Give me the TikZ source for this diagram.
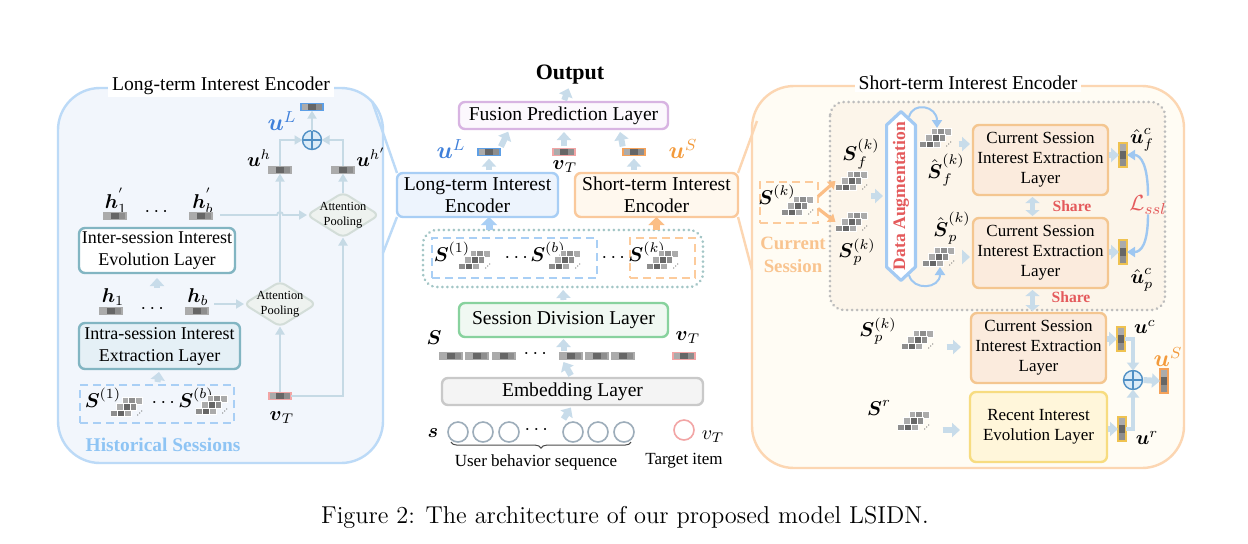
\documentclass[tikz,border=0pt]{standalone}
\usepackage{amsmath,amssymb}
\usepackage{fontspec}
\newfontfamily\tnr{Liberation Serif}
\usetikzlibrary{arrows.meta,positioning,decorations.pathreplacing}

\definecolor{lpanel}{HTML}{BCDAF7}
\definecolor{lpanelf}{HTML}{F2F6FC}
\definecolor{rpanel}{HTML}{FCD6B2}
\definecolor{rpanelf}{HTML}{FFFCF4}
\definecolor{rinner}{HTML}{FCF5EA}
\definecolor{arw}{HTML}{C8DCEA}
\definecolor{lnc}{HTML}{C6DAE5}
\definecolor{tealb}{HTML}{82B5C2}
\definecolor{intraf}{HTML}{E5F0F6}
\definecolor{dmdl}{HTML}{D3DDD8}
\definecolor{dmdf}{HTML}{EEF2EF}
\definecolor{fusb}{HTML}{D8B4E2}
\definecolor{fusf}{HTML}{FCF8FD}
\definecolor{lencb}{HTML}{A8CEF5}
\definecolor{lencf}{HTML}{EDF4FD}
\definecolor{sencb}{HTML}{FAC99C}
\definecolor{sencf}{HTML}{FFF8EE}
\definecolor{sdivb}{HTML}{88D29E}
\definecolor{sdivf}{HTML}{F0F8F2}
\definecolor{embb}{HTML}{C9C9C9}
\definecolor{embf}{HTML}{F4F4F4}
\definecolor{csb}{HTML}{F4C690}
\definecolor{csf}{HTML}{FBEBDD}
\definecolor{recb}{HTML}{F7DC80}
\definecolor{recf}{HTML}{FFF6DA}
\definecolor{blab}{HTML}{3F80DA}
\definecolor{olab}{HTML}{F39A3B}
\definecolor{rlab}{HTML}{E45A5C}
\definecolor{histc}{HTML}{8EC4F4}
\definecolor{curc}{HTML}{F9C48F}
\definecolor{dashb}{HTML}{A9CFF5}
\definecolor{dasho}{HTML}{FCCB9C}
\definecolor{dotc}{HTML}{A3C6C6}
\definecolor{dotg}{HTML}{BDBDBD}
\definecolor{cL}{HTML}{ABABAB}
\definecolor{cM}{HTML}{8E8E8E}
\definecolor{cD}{HTML}{666666}
\definecolor{vblue}{HTML}{5D9FE6}
\definecolor{vpink}{HTML}{F2A5A5}
\definecolor{vorng}{HTML}{F5A25A}
\definecolor{vyel}{HTML}{EFC250}
\definecolor{circ}{HTML}{9DADBA}
\definecolor{oplc}{HTML}{4F8FC4}
\definecolor{oplf}{HTML}{DCECF8}
\definecolor{dab}{HTML}{A3CAF3}
\definecolor{sslc}{HTML}{9EC7F1}
\definecolor{orarw}{HTML}{FBBE86}

\newcommand\ftbox{\tnr\fontsize{9.8}{11}\selectfont}
\newcommand\ftleft{\tnr\fontsize{9}{11}\selectfont}
\newcommand\ftright{\tnr\fontsize{8.5}{10}\selectfont}
\newcommand\ftap{\tnr\fontsize{6.2}{7.6}\selectfont}
\newcommand\ftnote{\tnr\fontsize{8.5}{10}\selectfont}
\newcommand\ftmath{\fontsize{10}{12}\selectfont}
\newcommand\ftbig{\fontsize{12}{14}\selectfont}

% one bar of three cells inside a session icon
\newcommand\stkbar[5]{%
  \filldraw[fill=#3, draw=white, line width=0.2pt] ([shift={(#1pt,#2pt)}]path picture bounding box.south west) rectangle ++(3.4pt,3.2pt);
  \filldraw[fill=#4, draw=white, line width=0.2pt] ([shift={(#1pt+3.4pt,#2pt)}]path picture bounding box.south west) rectangle ++(3.4pt,3.2pt);
  \filldraw[fill=#5, draw=white, line width=0.2pt] ([shift={(#1pt+6.8pt,#2pt)}]path picture bounding box.south west) rectangle ++(3.4pt,3.2pt);}
\newcommand\stkbars{%
  \stkbar{5.6}{6.5}{cL}{cM}{cL}%
  \stkbar{2.8}{3.5}{cL}{cD}{cM}%
  \stkbar{0}{0.4}{cM}{cD}{cL}%
  \fill[cD] ([shift={(13.6pt,1pt)}]path picture bounding box.south west) circle (0.3pt)
            ([shift={(14.6pt,2pt)}]path picture bounding box.south west) circle (0.3pt)
            ([shift={(15.6pt,3pt)}]path picture bounding box.south west) circle (0.3pt);}

\begin{document}
\begin{tikzpicture}[x=0.5pt, y=-0.5pt,
  every node/.style={inner sep=0pt, outer sep=0pt, font=\ftmath},
  lay/.style 2 args={draw=#1, fill=#2, rounded corners=3pt, line width=1.2pt, align=center},
  pnl/.style 2 args={draw=#1, fill=#2, line width=1.2pt, rounded corners=21pt},
  dashbox/.style={draw=#1, line width=1.3pt, dash pattern=on 4pt off 2.5pt},
  dotbox/.style={draw=#1, line width=1.4pt, dash pattern=on 0.1pt off 2.4pt, line cap=round, rounded corners=7pt},
  conn/.style={draw=lnc, line width=0.9pt, -{Triangle[width=4.5pt,length=4pt]}},
  barrow/.style={draw=arw, line width=3pt, -{Triangle[width=7pt,length=4pt]}},
  fatconn/.style={draw=arw, line width=1.6pt, -{Triangle[width=6pt,length=4pt]}},
  sharearr/.style={draw=arw, line width=2.5pt, {Triangle[width=7pt,length=3pt]}-{Triangle[width=7pt,length=3pt]}},
  thkarr/.style={draw=#1, line width=3.5pt, -{Triangle[width=8pt,length=4pt]}},
  oarrow/.style={draw=orarw, line width=1.6pt, -{Triangle[width=5pt,length=3.5pt]}},
  curvarr/.style={draw=sslc, line width=1pt, -{Triangle[width=5pt,length=4pt]}},
  fun/.style={draw=#1, line width=1.2pt},
  hvec/.style={draw=#1, line width=0.6pt, minimum width=11pt, minimum height=3.6pt,
    path picture={
      \fill[cL] (path picture bounding box.south west) rectangle ([xshift=3.67pt]path picture bounding box.north west);
      \fill[cD] ([xshift=3.67pt]path picture bounding box.south west) rectangle ([xshift=7.33pt]path picture bounding box.north west);
      \fill[cM] ([xshift=7.33pt]path picture bounding box.south west) rectangle (path picture bounding box.north east);}},
  hvec/.default=cL,
  vvec/.style={draw=#1, line width=0.6pt, minimum width=4pt, minimum height=12pt,
    path picture={
      \fill[cM] (path picture bounding box.south west) rectangle ([yshift=4pt]path picture bounding box.south east);
      \fill[cD] ([yshift=4pt]path picture bounding box.south west) rectangle ([yshift=8pt]path picture bounding box.south east);
      \fill[cL] ([yshift=8pt]path picture bounding box.south west) rectangle (path picture bounding box.north east);}},
  stk/.style={minimum width=17.5pt, minimum height=10pt, path picture={\stkbars}},
  apool/.style={minimum width=36pt, minimum height=22.5pt, align=center, font=\ftap,
    path picture={\draw[draw=dmdl, fill=dmdf, line width=1pt, rounded corners=3pt]
      (path picture bounding box.west) -- (path picture bounding box.north) -- (path picture bounding box.east) -- (path picture bounding box.south) -- cycle;}},
  oplus/.style={circle, draw=oplc, fill=oplf, line width=0.7pt, minimum size=9.5pt,
    path picture={\draw[oplc, line width=0.6pt] (path picture bounding box.north) -- (path picture bounding box.south) (path picture bounding box.west) -- (path picture bounding box.east);}},
  dabox/.style={minimum width=16pt, minimum height=86pt, text=rlab, font=\tnr\bfseries\fontsize{8.8}{10}\selectfont,
    path picture={\draw[draw=dab, fill=white, line width=1.6pt, line join=round]
      ([shift={(0.8pt,-7.5pt)}]path picture bounding box.north west) -- ([yshift=-0.8pt]path picture bounding box.north)
      -- ([shift={(-0.8pt,-7.5pt)}]path picture bounding box.north east) -- ([shift={(-0.8pt,7.5pt)}]path picture bounding box.south east)
      -- ([yshift=0.8pt]path picture bounding box.south) -- ([shift={(0.8pt,7.5pt)}]path picture bounding box.south west) -- cycle;}},
  item/.style={circle, draw=circ, line width=0.8pt, minimum size=10pt},
  share/.style={text=rlab, font=\tnr\bfseries\fontsize{7.8}{9}\selectfont},
  csbox/.style={lay={csb}{csf}, font=\ftright, minimum width=67.5pt, minimum height=35pt}
]
\useasboundingbox[fill=white] (0,0) rectangle (1248,543);

% panels
\draw[pnl={lpanel}{lpanelf}] (58,88) rectangle (383,463);
\node[font=\ftbox, fill=white, inner xsep=2pt, inner ysep=1pt] (ltitle) at (221,86) {Long-term Interest Encoder};
\draw[pnl={rpanel}{rpanelf}] (752,86) rectangle (1184,468);
\node[font=\ftbox, fill=white, inner xsep=2pt, inner ysep=1pt] (rtitle) at (968,83) {Short-term Interest Encoder};
\draw[dotbox=dotg, fill=rinner] (830,102) rectangle (1165,310);
\coordinate (lft) at (372,101);
\coordinate (lfb) at (383,253);
\coordinate (rft) at (757,121);
\coordinate (rfb) at (752,270);

% long-term encoder
\node[hvec=vblue] (uLv) at (312,107) {};
\node[font=\ftbig, text=blab] (uLlab) at (282,121) {$\boldsymbol{u}^{L}$};
\node[oplus] (opl) at (312,140) {};
\node (uhlab) at (259,158) {$\boldsymbol{u}^{h}$};
\node[hvec] (uhv) at (280,170) {};
\node (uhplab) at (371,157) {$\boldsymbol{u}^{h'}$};
\node[hvec] (uhpv) at (343,170) {};
\node[apool] (ap1) at (343,215) {Attention\\Pooling};
\node (hp1lab) at (116,201) {$\boldsymbol{h}_1^{'}$};
\node[hvec] (hp1v) at (115,216) {};
\node (dots1) at (158,212) {$\cdots$};
\node (hpblab) at (203,201) {$\boldsymbol{h}_b^{'}$};
\node[hvec] (hpbv) at (201,216) {};
\node[lay={tealb}{white}, font=\ftleft, minimum width=78pt, minimum height=22.5pt] (inter) at (157,250.5) {Inter-session Interest\\Evolution Layer};
\node (h1lab) at (113,297) {$\boldsymbol{h}_1$};
\node[hvec] (h1v) at (111,311) {};
\node (dots2) at (154,309) {$\cdots$};
\node (hblab) at (198,297) {$\boldsymbol{h}_b$};
\node[hvec] (hbv) at (197,311) {};
\node[apool] (ap2) at (280,304) {Attention\\Pooling};
\node[lay={tealb}{intraf}, font=\ftleft, minimum width=80.5pt, minimum height=23pt] (intra) at (159.5,346) {Intra-session Interest\\Extraction Layer};
\node[dashbox=dashb, minimum width=77pt, minimum height=19pt] (hist) at (157,404) {};
\node (s1lab) at (103,398) {$\boldsymbol{S}^{(1)}$};
\node[stk] (s1stk) at (128,407) {};
\node (dots3) at (165,403) {$\cdots$};
\node (sblab) at (196,398) {$\boldsymbol{S}^{(b)}$};
\node[stk] (sbstk) at (213,405) {};
\node[hvec=vpink] (vTl) at (280,396) {};
\node (vTllab) at (282,418) {$\boldsymbol{v}_T$};
\node[font=\tnr\bfseries\fontsize{9.7}{11}\selectfont, text=histc] (histlab) at (163,445) {Historical Sessions};

\draw[conn] (uhv.north) |- (opl.west);
\draw[conn] (uhpv.north) |- (opl.east);
\draw[conn] (opl.north) -- (uLv.south);
\draw[conn] (ap1.north) -- (uhpv.south);
\draw[conn] (ap2.north) -- (uhv.south);
\draw[conn] ([xshift=4pt]hpbv.east |- ap1.west) -- ([xshift=-1.5pt]uhv.south |- ap1.west)
  arc[start angle=180, end angle=0, radius=1.5pt] -- (ap1.west);
\draw[conn] ([xshift=3pt]hbv.east |- ap2.west) -- (ap2.west);
\draw[conn] (vTl.north) -- (ap2.south);
\draw[conn] (vTl.east) -| (ap1.south);
\draw[barrow] ([yshift=-7.5pt]inter.south) -- ([yshift=-2.5pt]inter.south);
\draw[barrow, shorten <=1.5pt, shorten >=1.5pt] (hist.north) -- (intra.south);

% main pipeline
\node[font=\tnr\bfseries\fontsize{11}{13}\selectfont] (out) at (570,75) {Output};
\node[lay={fusb}{fusf}, font=\ftbox, minimum width=104.5pt, minimum height=13.5pt] (fus) at (563.5,115.5) {Fusion Prediction Layer};
\node[font=\ftbig, text=blab] (uLclab) at (451,149) {$\boldsymbol{u}^{L}$};
\node[hvec=vblue] (uLc) at (489,152) {};
\node[hvec=vpink] (vTc) at (564,152) {};
\node (vTclab) at (565,167) {$\boldsymbol{v}_T$};
\node[hvec=vorng] (uSc) at (634,152) {};
\node[font=\ftbig, text=olab] (uSclab) at (683,149) {$\boldsymbol{u}^{S}$};
\node[lay={lencb}{lencf}, font=\ftbox, minimum width=80.5pt, minimum height=22pt] (lenc) at (477.5,195) {Long-term Interest\\Encoder};
\node[lay={sencb}{sencf}, font=\ftbox, minimum width=81.5pt, minimum height=22pt] (senc) at (656.5,195) {Short-term Interest\\Encoder};
\node[dotbox=dotc, minimum width=140pt, minimum height=28.5pt] (sess) at (563,258.5) {};
\node[dashbox=dashb, minimum width=82.5pt, minimum height=20pt] (lsess) at (514.5,258) {};
\node[dashbox=dasho, minimum width=32.5pt, minimum height=20pt] (ksess) at (662.5,258) {};
\node (c1lab) at (452,252) {$\boldsymbol{S}^{(1)}$};
\node[stk] (c1stk) at (476,260) {};
\node (dots4) at (518,258) {$\cdots$};
\node (cblab) at (548,252) {$\boldsymbol{S}^{(b)}$};
\node[stk] (cbstk) at (566,260) {};
\node (dots5) at (615,258) {$\cdots$};
\node (cklab) at (647,252) {$\boldsymbol{S}^{(k)}$};
\node[stk] (ckstk) at (664,260) {};
\node[lay={sdivb}{sdivf}, font=\ftbox, minimum width=104.5pt, minimum height=17pt] (sdiv) at (563.5,320) {Session Division Layer};
\node (Slab) at (434,338) {$\boldsymbol{S}$};
\node (vTelab) at (688,338) {$\boldsymbol{v}_T$};
\foreach \x [count=\i] in {451,477,504,571,597,623}
  \node[hvec] (e\i) at (\x,356) {};
\node (dots6) at (537,354) {$\cdots$};
\node[hvec=vpink] (vTe) at (684,356) {};
\node[lay={embb}{embf}, font=\ftbox, minimum width=130.5pt, minimum height=13.5pt] (emb) at (572.5,391.5) {Embedding Layer};
\node (slab) at (433,433) {$\boldsymbol{s}$};
\foreach \x [count=\i] in {458,483,509,573,598,624}
  \node[item] (it\i) at (\x,432) {};
\node (dots7) at (538,430) {$\cdots$};
\node[item, draw=vpink] (tgt) at (684,430) {};
\node (vTilab) at (713,437) {$v_T$};
\draw[decorate, decoration={brace, mirror, amplitude=3pt}, draw=black!70, line width=0.5pt]
  ([yshift=-1.5pt]it1.south west) -- ([yshift=-1.5pt]it6.south east);
\node[font=\ftnote] (ubs) at (536,462) {User behavior sequence};
\node[font=\ftnote] (tgtlab) at (684,461) {Target item};
\coordinate (rowt) at (563.5,351);
\coordinate (rowb) at (563.5,362);
\coordinate (itemt) at (563.5,419);

\draw[barrow, shorten <=1pt, shorten >=2pt] (fus.north) -- (out.south);
\draw[barrow, shorten <=1pt, shorten >=1.5pt] (uLc.north east) -- ([xshift=-27pt]fus.south);
\draw[barrow, shorten <=1pt, shorten >=1.5pt] (vTc.north) -- (vTc.north |- fus.south);
\draw[barrow, shorten <=1pt, shorten >=1.5pt] (uSc.north west) -- ([xshift=28pt]fus.south);
\draw[barrow, shorten <=1.5pt, shorten >=1.5pt] (lenc.north -| uLc) -- (uLc.south);
\draw[barrow, shorten <=1.5pt, shorten >=1.5pt] (senc.north -| uSc) -- (uSc.south);
\draw[thkarr=dashb] (sess.north -| uLc) -- (lenc.south -| uLc);
\draw[thkarr=orarw] (sess.north -| senc) -- (senc.south);
\draw[barrow, shorten <=1.5pt, shorten >=1.5pt] (sdiv.north) -- (sess.south);
\draw[barrow, shorten >=1pt] (rowt) -- (sdiv.south);
\draw[barrow, shorten <=1.5pt] (emb.north) -- (rowb);
\draw[barrow, shorten >=1.5pt] (itemt) -- (emb.south);

\draw[fun=lpanel] (lft) -- (lenc.north west);
\draw[fun=lpanel] (lfb) -- (lenc.south west);
\draw[fun=rpanel] (senc.north east) -- (rft);
\draw[fun=rpanel] (senc.south east) -- (rfb);

% short-term encoder
\node[dashbox=dasho, minimum width=29pt, minimum height=20.5pt] (cur) at (789,202.5) {};
\node (sklab) at (777,195) {$\boldsymbol{S}^{(k)}$};
\node[stk] (skstk) at (799,206) {};
\node[font=\tnr\bfseries\fontsize{9.4}{11.5}\selectfont, text=curc, align=center] (curlab) at (793,255) {Current\\Session};
\node (sflab) at (861,154) {$\boldsymbol{S}_f^{(k)}$};
\node[stk] (sfstk) at (853,181) {};
\node[stk] (spstk) at (853,222) {};
\node (splab) at (857,252) {$\boldsymbol{S}_p^{(k)}$};
\node[dabox] (da) at (901,196) {\rotatebox{90}{Data Augmentation}};
\node[stk] (sfh) at (937,138) {};
\node (sfhlab) at (946,170) {$\hat{\boldsymbol{S}}_f^{(k)}$};
\node (sphlab) at (952,228) {$\hat{\boldsymbol{S}}_p^{(k)}$};
\node[stk] (sph) at (940,257) {};
\node[csbox] (cs1) at (1040.5,160) {Current Session\\Interest Extraction\\Layer};
\node[csbox] (cs2) at (1040.5,253) {Current Session\\Interest Extraction\\Layer};
\node[vvec=vyel] (ufv) at (1123,155) {};
\node (uflab) at (1142,140) {$\hat{\boldsymbol{u}}_f^{c}$};
\node[vvec=vyel] (upv) at (1123,252) {};
\node (uplab) at (1142,280) {$\hat{\boldsymbol{u}}_p^{c}$};
\node[text=rlab, font=\fontsize{11}{13}\selectfont] (lssl) at (1148,205) {$\mathcal{L}_{ssl}$};
\node[share] (sh1) at (1072,206) {Share};
\node[share] (sh2) at (1071,297) {Share};
\node (sp2lab) at (878,331) {$\boldsymbol{S}_p^{(k)}$};
\node[stk] (sp2stk) at (919,340) {};
\node[csbox] (cs3) at (1038.5,348) {Current Session\\Interest Extraction\\Layer};
\node (srlab) at (879,408) {$\boldsymbol{S}^{r}$};
\node[stk] (srstk) at (915,421) {};
\node[lay={recb}{recf}, font=\ftright, minimum width=68.5pt, minimum height=35pt] (rec) at (1038.5,427) {Recent Interest\\Evolution Layer};
\node[vvec=vyel] (ucv) at (1121,339) {};
\node (uclab) at (1145,327) {$\boldsymbol{u}^{c}$};
\node[vvec=vyel] (urv) at (1122,429) {};
\node (urlab) at (1147,438) {$\boldsymbol{u}^{r}$};
\node[oplus] (opr) at (1133,380) {};
\node[vvec=vorng] (uSv) at (1164,381) {};
\node[font=\ftbig, text=olab] (uSlab) at (1168,357) {$\boldsymbol{u}^{S}$};

\draw[oarrow] ([yshift=3pt]cur.east) -- (sfstk.west);
\draw[oarrow] ([yshift=-3pt]cur.east) -- (spstk.west);
\draw[barrow, shorten >=1pt] ([xshift=-7pt]da.west) -- (da.west);
\draw[curvarr] ([xshift=4pt,yshift=-3.5pt]da.north) .. controls +(4,-16) and +(0,-22) .. (sfh.north);
\draw[curvarr] ([xshift=4pt,yshift=3.5pt]da.south) .. controls +(4,16) and +(0,22) .. (sph.south);
\draw[barrow, shorten <=2pt, shorten >=1.5pt] ([yshift=-3pt]sfh.east) -- ([yshift=-3pt]sfh.east -| cs1.west);
\draw[barrow, shorten <=2pt, shorten >=1.5pt] (sph.east) -- (sph.east -| cs2.west);
\draw[barrow, shorten <=5pt, shorten >=5pt] ([yshift=-3.5pt]sp2stk.east) -- ([yshift=-3.5pt]sp2stk.east -| cs3.west);
\draw[barrow, shorten <=5pt, shorten >=5pt] ([yshift=-4.5pt]srstk.east) -- ([yshift=-4.5pt]srstk.east -| rec.west);
\draw[barrow, shorten <=0.5pt] (cs1.east |- ufv.west) -- (ufv.west);
\draw[barrow, shorten <=0.5pt] (cs2.east |- upv.west) -- (upv.west);
\draw[barrow, shorten <=0.5pt] (cs3.east |- ucv.west) -- (ucv.west);
\draw[barrow, shorten <=0.5pt] (rec.east |- urv.west) -- (urv.west);
\draw[sharearr, shorten <=1pt, shorten >=1pt] ([xshift=-4pt]cs1.south) -- ([xshift=-4pt]cs2.north);
\draw[sharearr, shorten <=1pt, shorten >=1pt] ([xshift=-4pt]cs2.south) -- ([xshift=-3pt]cs3.north);
\draw[curvarr, draw=sslc, line width=1.2pt] (lssl.north) .. controls +(0,-30) and +(14,0) .. (ufv.east);
\draw[curvarr, draw=sslc, line width=1.2pt] (lssl.south) .. controls +(0,30) and +(14,0) .. (upv.east);
\draw[fatconn] (ucv.east) -| (opr.north);
\draw[fatconn] (urv.east) -| (opr.south);
\draw[barrow, shorten <=0.5pt] (opr.east) -- (uSv.west);

\node[font=\fontsize{12.2}{14}\selectfont] (cap) at (625,517) {Figure 2: The architecture of our proposed model LSIDN.};
\end{tikzpicture}
\end{document}
